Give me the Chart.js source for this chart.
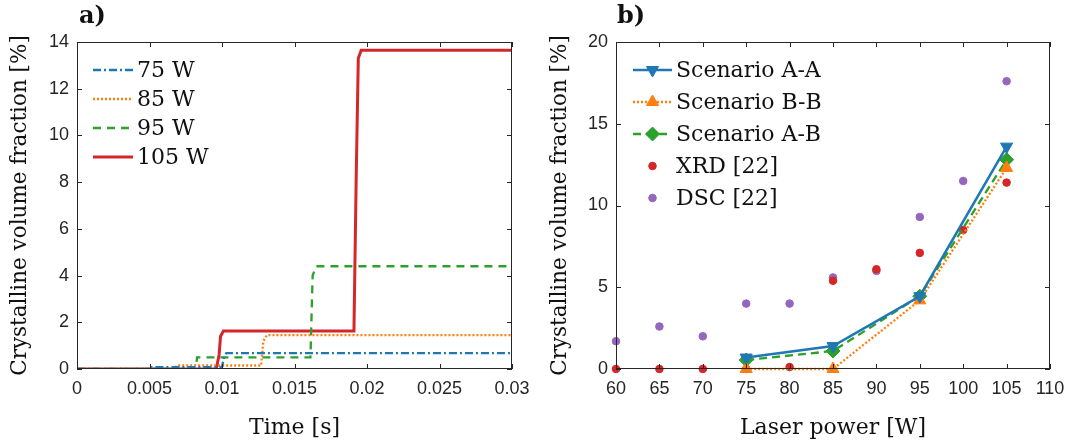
<!DOCTYPE html>
<html>
<head>
<meta charset="utf-8">
<script src="https://cdn.jsdelivr.net/npm/chart.js@4"></script>
<style>
  html, body { margin: 0; padding: 0; background: #fff; }
  #wrap { position: relative; width: 1080px; height: 448px; }
  .panel { position: absolute; top: 0; width: 540px; height: 448px; }
  .tag { position: absolute; top: 0; font: bold 24px "DejaVu Serif", serif; color: #111; }
</style>
</head>
<body>
<div id="wrap">
  <div class="panel" style="left:0"><canvas id="chartA"></canvas></div>
  <div class="panel" style="left:540px"><canvas id="chartB"></canvas></div>
  <div class="tag" style="left:79px">a)</div>
  <div class="tag" style="left:617px">b)</div>
</div>
<script>
// ---- パネル a) 時間 vs 結晶体積率 ----
const xTicksA = ['0', '0.005', '0.01', '0.015', '0.02', '0.025', '0.03'];
const yTicksA = ['0', '2', '4', '6', '8', '10', '12', '14'];

const time75 = [0, 0.005, 0.00502, 0.0100, 0.01012, 0.0103, 0.03];
const val75  = [0, 0, 0.08, 0.08, 0.45, 0.68, 0.68];
const time85 = [0, 0.0068, 0.00685, 0.0127, 0.01285, 0.0131, 0.03];
const val85  = [0, 0, 0.15, 0.15, 1.2, 1.45, 1.45];
const time95 = [0, 0.0082, 0.00828, 0.0161, 0.01625, 0.0165, 0.03];
const val95  = [0, 0, 0.5, 0.5, 4.0, 4.4, 4.4];
const time105 = [0, 0.0096, 0.0098, 0.0099, 0.0101, 0.0191, 0.01925, 0.0194, 0.0196, 0.03];
const val105  = [0, 0, 0.6, 1.4, 1.63, 1.63, 8.0, 13.3, 13.65, 13.65];

// ---- パネル b) レーザー出力 vs 結晶体積率 ----
const xTicksB = ['60', '65', '70', '75', '80', '85', '90', '95', '100', '105', '110'];
const yTicksB = ['0', '5', '10', '15', '20'];

const powerSim = [75, 85, 95, 105];
const scenarioAA = [0.7, 1.4, 4.45, 13.6];
const scenarioBB = [0, 0, 4.2, 12.3];
const scenarioAB = [0.55, 1.1, 4.45, 12.8];
const powerExp = [60, 65, 70, 75, 80, 85, 90, 95, 100, 105];
const xrd = [0, 0, 0, 0, 0.12, 5.4, 6.1, 7.1, 8.5, 11.4];
const dsc = [1.7, 2.6, 2.0, 4.0, 4.0, 5.6, 6.0, 9.3, 11.5, 17.6];

const BLUE = '#1f77b4', ORANGE = '#ff7f0e', GREEN = '#2ca02c', RED = '#d62728', PURPLE = '#9467bd';
const AXIS = '#262626';
const SERIF = '"DejaVu Serif", serif';
const SANS = '"Liberation Sans", Arial, sans-serif';

function pts(xs, ys) { return xs.map((x, i) => ({ x: x, y: ys[i] })); }

/**
 * 枠と内向きの目盛り (MATLAB風)
 */
const boxPlugin = {
    id: 'box',
    afterDatasetsDraw(chart) {
        const { ctx, chartArea: a, scales } = chart;
        ctx.save();
        ctx.strokeStyle = AXIS;
        ctx.lineWidth = 1;
        ctx.setLineDash([]);
        ctx.strokeRect(a.left + 0.5, a.top + 0.5, a.right - a.left - 1, a.bottom - a.top - 1);
        const len = 5;
        ctx.beginPath();
        scales.x.ticks.forEach((t, i) => {
            const px = Math.round(scales.x.getPixelForTick(i)) + 0.5;
            ctx.moveTo(px, a.bottom); ctx.lineTo(px, a.bottom - len);
            ctx.moveTo(px, a.top); ctx.lineTo(px, a.top + len);
        });
        scales.y.ticks.forEach((t, i) => {
            const py = Math.round(scales.y.getPixelForTick(i)) + 0.5;
            ctx.moveTo(a.left, py); ctx.lineTo(a.left + len, py);
            ctx.moveTo(a.right, py); ctx.lineTo(a.right - len, py);
        });
        ctx.stroke();
        ctx.restore();
    }
};

/**
 * 凡例 (チャート内、枠なし)
 */
function legendPlugin(x0, y0, rowH, sampleW) {
    return {
        id: 'innerLegend',
        afterDraw(chart) {
            const ctx = chart.ctx;
            const a = chart.chartArea;
            ctx.save();
            ctx.font = '22px ' + SERIF;
            ctx.textBaseline = 'middle';
            chart.data.datasets.forEach((ds, i) => {
                const y = a.top + y0 + i * rowH;
                const x = a.left + x0;
                if (ds.showLine !== false) {
                    ctx.strokeStyle = ds.borderColor;
                    ctx.lineWidth = ds.borderWidth;
                    ctx.setLineDash(ds.borderDash || []);
                    ctx.beginPath();
                    ctx.moveTo(x, y); ctx.lineTo(x + sampleW, y);
                    ctx.stroke();
                    ctx.setLineDash([]);
                }
                if (ds.pointRadius > 0) {
                    ctx.fillStyle = ds.pointBackgroundColor;
                    ctx.strokeStyle = ds.pointBorderColor;
                    ctx.lineWidth = 1;
                    ctx.setLineDash([]);
                    Chart.helpers.drawPoint(ctx, {
                        pointStyle: ds.pointStyle,
                        rotation: ds.pointRotation || 0,
                        radius: ds.pointRadius,
                        borderWidth: 1
                    }, x + sampleW / 2, y);
                }
                ctx.fillStyle = '#111';
                ctx.fillText(ds.label, x + sampleW + 4, y + 1);
            });
            ctx.restore();
        }
    };
}

function axisOptions(min, max, step, labels, title, isX, fitSize) {
    return {
        type: 'linear',
        min: min,
        max: max,
        ticks: {
            stepSize: step,
            autoSkip: false,
            maxRotation: 0,
            padding: isX ? 9 : 8,
            color: AXIS,
            font: { family: SANS, size: 18 },
            callback: (v, i) => labels[i]
        },
        grid: { display: false, drawTicks: false },
        border: { display: false },
        title: {
            display: true,
            text: title,
            color: '#111',
            font: { family: SERIF, size: isX ? 22 : 21.5 },
            padding: isX ? { top: 0, bottom: 7 } : { top: 8, bottom: 0 }
        },
        afterFit: scale => {
            if (isX) scale.height = fitSize; else scale.width = fitSize;
        }
    };
}

function baseOptions(xAxis, yAxis, padRight) {
    return {
        responsive: false,
        animation: false,
        layout: { padding: { top: 42, right: padRight, left: 0, bottom: 0 } },
        plugins: { legend: { display: false }, tooltip: { enabled: false } },
        scales: { x: xAxis, y: yAxis }
    };
}

function lineDs(label, data, color, dash, width) {
    return {
        label: label,
        data: data,
        borderColor: color,
        backgroundColor: color,
        borderWidth: width,
        borderDash: dash,
        pointRadius: 0,
        tension: 0,
        fill: false
    };
}

// パネル a)
const canvasA = document.getElementById('chartA');
canvasA.width = 540; canvasA.height = 448;
new Chart(canvasA.getContext('2d'), {
    type: 'line',
    data: {
        datasets: [
            lineDs('75 W', pts(time75, val75), BLUE, [8, 3, 2, 3], 2.3),
            lineDs('85 W', pts(time85, val85), ORANGE, [2, 2], 2.3),
            lineDs('95 W', pts(time95, val95), GREEN, [8, 6], 2.3),
            lineDs('105 W', pts(time105, val105), RED, [], 3)
        ]
    },
    options: baseOptions(
        axisOptions(0, 0.03, 0.005, xTicksA, 'Time [s]', true, 79),
        axisOptions(0, 14, 2, yTicksA, 'Crystalline volume fraction [%]', false, 77),
        28
    ),
    plugins: [boxPlugin, legendPlugin(16, 28, 29, 40)]
});

function markerDs(label, xs, ys, color, dash, style, rot, r, width) {
    return {
        label: label,
        data: pts(xs, ys),
        borderColor: color,
        backgroundColor: color,
        borderWidth: width,
        borderDash: dash,
        pointStyle: style,
        pointRotation: rot,
        pointRadius: r,
        pointBackgroundColor: color,
        pointBorderColor: color,
        pointBorderWidth: 1,
        tension: 0,
        fill: false,
        clip: false
    };
}

// パネル b)
const canvasB = document.getElementById('chartB');
canvasB.width = 540; canvasB.height = 448;
const dsB = [
    markerDs('Scenario A-A', powerSim, scenarioAA, BLUE, [], 'triangle', 180, 7, 2.5),
    markerDs('Scenario B-B', powerSim, scenarioBB, ORANGE, [2, 2], 'triangle', 0, 7, 2.3),
    markerDs('Scenario A-B', powerSim, scenarioAB, GREEN, [8, 5], 'rectRot', 0, 7, 2.3),
    Object.assign(markerDs('XRD [22]', powerExp, xrd, RED, [], 'circle', 0, 3.8, 0), { showLine: false }),
    Object.assign(markerDs('DSC [22]', powerExp, dsc, PURPLE, [], 'circle', 0, 3.8, 0), { showLine: false })
];
new Chart(canvasB.getContext('2d'), {
    type: 'line',
    data: { datasets: dsB },
    options: baseOptions(
        axisOptions(60, 110, 5, xTicksB, 'Laser power [W]', true, 79),
        axisOptions(0, 20, 5, yTicksB, 'Crystalline volume fraction [%]', false, 76),
        30
    ),
    plugins: [boxPlugin, legendPlugin(17, 28, 32, 39)]
});
</script>
</body>
</html>
